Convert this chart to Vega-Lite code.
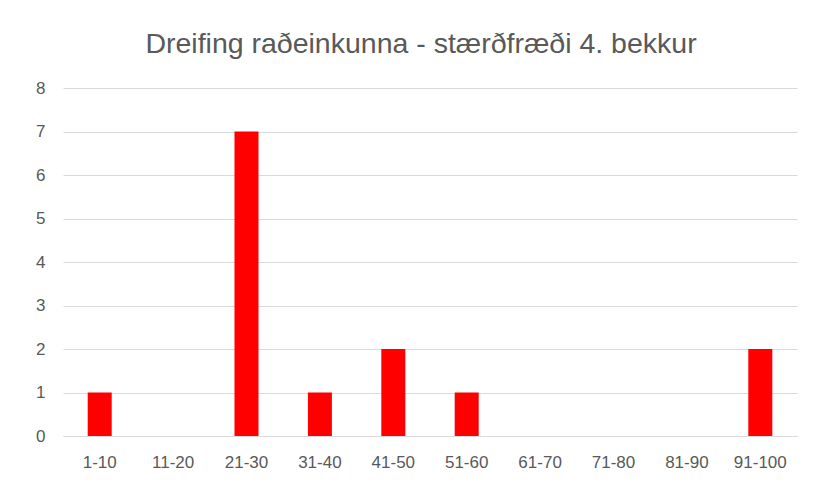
{
  "$schema": "https://vega.github.io/schema/vega-lite/v6.json",
  "width": 734,
  "height": 348,
  "autosize": {"type": "none"},
  "padding": {"left": 63, "top": 88, "right": 21, "bottom": 49},
  "background": "white",
  "title": {
    "text": "Dreifing raðeinkunna - stærðfræði 4. bekkur",
    "font": "Liberation Sans",
    "fontSize": 28.5,
    "fontWeight": "normal",
    "color": "#595959",
    "anchor": "middle",
    "dx": -9,
    "offset": 21
  },
  "data": {
    "values": [
      {"bin": "1-10", "count": 1},
      {"bin": "11-20", "count": 0},
      {"bin": "21-30", "count": 7},
      {"bin": "31-40", "count": 1},
      {"bin": "41-50", "count": 2},
      {"bin": "51-60", "count": 1},
      {"bin": "61-70", "count": 0},
      {"bin": "71-80", "count": 0},
      {"bin": "81-90", "count": 0},
      {"bin": "91-100", "count": 2}
    ]
  },
  "mark": {"type": "bar", "color": "#ff0000"},
  "encoding": {
    "x": {
      "field": "bin",
      "type": "nominal",
      "sort": null,
      "title": null,
      "scale": {"paddingInner": 0.673, "paddingOuter": 0.3365},
      "axis": {
        "labelAngle": 0,
        "labelFont": "Liberation Sans",
        "labelFontSize": 17,
        "labelColor": "#595959",
        "labelPadding": 18,
        "ticks": false,
        "domainColor": "#d9d9d9",
        "domainWidth": 1,
        "grid": false
      }
    },
    "y": {
      "field": "count",
      "type": "quantitative",
      "title": null,
      "scale": {"domain": [0, 8], "nice": false},
      "axis": {
        "values": [0, 1, 2, 3, 4, 5, 6, 7, 8],
        "labelFont": "Liberation Sans",
        "labelFontSize": 17,
        "labelColor": "#595959",
        "labelPadding": 18,
        "ticks": false,
        "domain": false,
        "gridColor": "#d9d9d9",
        "gridWidth": 1
      }
    }
  },
  "config": {"view": {"stroke": null}}
}
